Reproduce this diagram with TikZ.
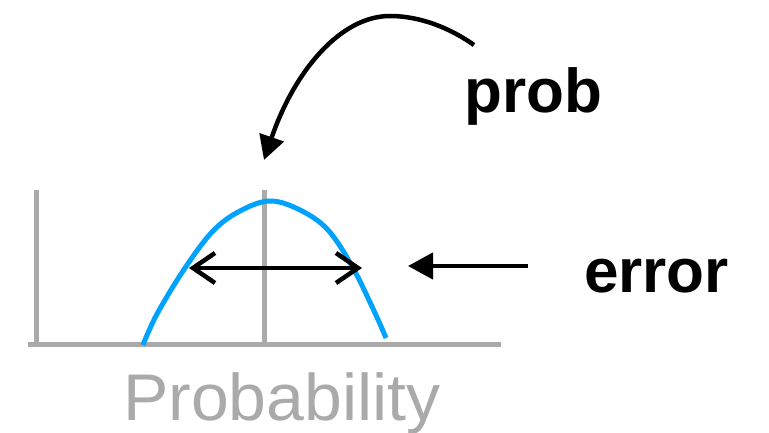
\documentclass[tikz,border=0pt]{standalone}
\usepackage{fontspec}
\setmainfont{Liberation Sans}
\newfontfamily\axislabelfont[FakeStretch=1.03]{Liberation Sans}
\usetikzlibrary{arrows.meta}
\definecolor{axisgray}{HTML}{AAAAAA}
\definecolor{curveblue}{HTML}{00A2FF}
\tikzset{
  axisline/.style={draw=axisgray, line width=5pt},
  bellcurve/.style={draw=curveblue, line width=5pt},
  arrline/.style={draw=black, line width=4.5pt},
  boldlabel/.style={inner sep=0pt, anchor=base west, font=\fontsize{62}{62}\selectfont\bfseries},
  axislabel/.style={inner sep=0pt, anchor=base west, text=axisgray, font=\axislabelfont\fontsize{66}{66}\selectfont},
}
\begin{document}
\begin{tikzpicture}[x=1pt,y=-1pt]
\useasboundingbox (0,0) rectangle (769,433);
% axes
\coordinate (ytop) at (36,190);
\coordinate (ybot) at (36,347);
\coordinate (xl) at (28,344.5);
\coordinate (xr) at (501,344.5);
\coordinate (mtop) at (264,190);
\coordinate (mbot) at (264,347);
\draw[axisline] (ytop) -- (ybot);
\draw[axisline] (xl) -- (xr);
\draw[axisline] (mtop) -- (mbot);
% curve
\draw[bellcurve, line cap=butt] plot[smooth, tension=0.6] coordinates {(143,345) (157,314) (185,268) (213,231) (240,211) (270,201) (300,210) (328,230) (353,268) (375,313) (386,338)};
% double arrow
\coordinate (dl) at (189,268);
\coordinate (dr) at (362,268);
\draw[arrline, {Straight Barb[length=22pt,width=30pt]}-{Straight Barb[length=22pt,width=30pt]}] (dl) -- (dr);
% error arrow
\coordinate (es) at (528,266);
\coordinate (et) at (408,266);
\draw[arrline, -{Triangle[length=25pt,width=26pt]}] (es) -- (et);
% curved arrow
\coordinate (cs) at (474,45);
\coordinate (ctop) at (390,16);
\coordinate (ct) at (264,160);
\draw[arrline, -{Triangle[length=24pt,width=25pt]}] (cs) .. controls (450,28) and (420,16) .. (ctop) .. controls (340,16) and (294,72) .. (ct);
% labels
\node[boldlabel] (prob) at (464,113) {prob};
\node[boldlabel] (err) at (584,292) {error};
\node[axislabel] (xlabel) at (123,420) {Probability};
\end{tikzpicture}
\end{document}
